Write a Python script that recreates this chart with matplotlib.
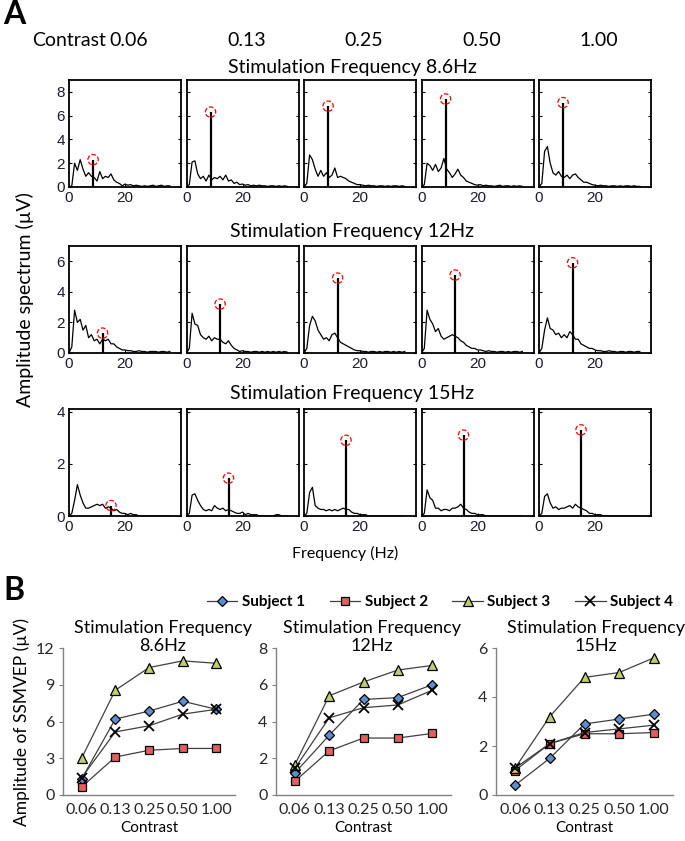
import numpy as np
import matplotlib
matplotlib.use("Agg")
import matplotlib.pyplot as plt
from matplotlib.lines import Line2D

plt.rcParams['font.family'] = ['Lato', 'DejaVu Sans']

# ---- panel A: amplitude spectra (1 Hz bins, 0..36 Hz) ----
contrasts = ['0.06', '0.13', '0.25', '0.50', '1.00']
stim_freqs = [8.6, 12, 15]
stim_names = ['8.6Hz', '12Hz', '15Hz']
freq_grid = list(range(37))

spec_86 = [
    [0, 0.1, 2.0, 1.4, 2.3, 1.5, 0.9, 1.2, 0.9, 0.8, 0.5, 1.3, 0.7, 0.9, 0.8, 1.1, 0.6, 0.4, 0.3, 0.1, 0.25, 0.15, 0.2, 0.1, 0.15, 0.1, 0.05, 0.1, 0.05, 0.1, 0.15, 0.05, 0.1, 0.15, 0.05, 0.1, 0.1],
    [0, 0.2, 2.1, 2.2, 1.1, 0.7, 0.9, 0.5, 1.0, 0.6, 0.8, 0.7, 0.9, 0.6, 1.0, 0.5, 0.6, 0.3, 0.4, 0.2, 0.25, 0.15, 0.2, 0.1, 0.15, 0.1, 0.15, 0.1, 0.1, 0.05, 0.1, 0.1, 0.05, 0.1, 0.05, 0.1, 0.05],
    [0, 0.3, 2.7, 2.3, 1.5, 0.9, 1.4, 0.9, 1.2, 0.8, 1.0, 1.6, 0.8, 0.9, 0.8, 0.7, 0.5, 0.4, 0.3, 0.2, 0.2, 0.15, 0.1, 0.15, 0.1, 0.1, 0.05, 0.1, 0.1, 0.05, 0.1, 0.05, 0.1, 0.1, 0.05, 0.1, 0.05],
    [0, 0.2, 2.0, 1.8, 1.4, 1.9, 1.3, 1.6, 2.4, 1.5, 1.2, 0.8, 1.1, 1.5, 1.0, 0.8, 0.5, 0.4, 0.3, 0.2, 0.15, 0.2, 0.1, 0.15, 0.1, 0.1, 0.05, 0.1, 0.15, 0.05, 0.1, 0.1, 0.05, 0.1, 0.05, 0.1, 0.05],
    [0, 0.3, 3.0, 3.4, 2.0, 1.2, 1.0, 1.3, 0.9, 0.8, 1.0, 0.7, 1.0, 1.1, 0.8, 0.6, 0.4, 0.4, 0.3, 0.2, 0.15, 0.1, 0.15, 0.1, 0.1, 0.05, 0.1, 0.1, 0.05, 0.1, 0.05, 0.1, 0.1, 0.05, 0.1, 0.05, 0.05],
]
spec_12 = [
    [0, 0.4, 2.8, 2.0, 2.2, 1.5, 1.8, 1.0, 1.2, 0.8, 0.9, 0.6, 0.9, 0.8, 0.9, 0.6, 0.6, 0.4, 0.3, 0.2, 0.2, 0.15, 0.15, 0.1, 0.1, 0.15, 0.1, 0.1, 0.05, 0.1, 0.1, 0.1, 0.05, 0.1, 0.1, 0.05, 0.1],
    [0, 0.3, 2.6, 1.9, 1.8, 1.2, 1.0, 0.9, 1.1, 0.8, 1.0, 0.9, 0.9, 0.7, 0.6, 0.8, 0.5, 0.3, 0.2, 0.1, 0.15, 0.1, 0.1, 0.05, 0.1, 0.1, 0.05, 0.1, 0.05, 0.1, 0.05, 0.1, 0.05, 0.1, 0.05, 0.1, 0.05],
    [0, 0.3, 1.8, 2.4, 2.1, 1.5, 1.2, 0.9, 1.0, 0.8, 1.2, 1.3, 1.0, 0.7, 0.6, 0.5, 0.4, 0.3, 0.2, 0.15, 0.15, 0.1, 0.1, 0.05, 0.1, 0.1, 0.05, 0.1, 0.05, 0.1, 0.1, 0.05, 0.1, 0.05, 0.1, 0.05, 0.1],
    [0, 0.3, 2.8, 2.2, 1.9, 1.4, 1.6, 1.1, 0.9, 1.0, 1.1, 1.2, 1.1, 1.0, 0.8, 0.7, 0.5, 0.4, 0.3, 0.3, 0.2, 0.2, 0.15, 0.1, 0.15, 0.1, 0.1, 0.05, 0.1, 0.1, 0.05, 0.1, 0.05, 0.1, 0.1, 0.05, 0.1],
    [0, 0.3, 1.5, 2.3, 1.6, 1.5, 1.2, 1.3, 1.0, 1.2, 1.0, 1.4, 1.2, 0.9, 0.9, 0.6, 0.5, 0.4, 0.3, 0.3, 0.2, 0.15, 0.15, 0.1, 0.1, 0.15, 0.1, 0.1, 0.05, 0.1, 0.1, 0.05, 0.1, 0.1, 0.05, 0.1, 0.1],
]
spec_15 = [
    [0, 0.1, 0.6, 1.2, 0.8, 0.5, 0.3, 0.3, 0.35, 0.4, 0.45, 0.4, 0.45, 0.3, 0.35, 0.3, 0.2, 0.25, 0.15, 0.1, 0.1, 0.05, 0.1, 0.05, 0.05, 0, 0, 0, 0, 0, 0, 0, 0, 0, 0, 0, 0],
    [0, 0.1, 0.8, 0.85, 0.6, 0.4, 0.25, 0.2, 0.25, 0.2, 0.4, 0.3, 0.25, 0.3, 0.2, 0.25, 0.2, 0.15, 0.1, 0.1, 0.15, 0.05, 0.1, 0.05, 0.05, 0.05, 0, 0, 0, 0, 0, 0, 0.05, 0.05, 0, 0, 0],
    [0, 0.1, 0.9, 1.1, 0.4, 0.3, 0.25, 0.25, 0.2, 0.25, 0.2, 0.25, 0.2, 0.25, 0.3, 0.25, 0.25, 0.15, 0.1, 0.1, 0.05, 0.05, 0.05, 0, 0, 0, 0, 0, 0, 0, 0, 0, 0, 0, 0, 0, 0],
    [0, 0.1, 1.0, 0.7, 0.6, 0.3, 0.3, 0.2, 0.25, 0.25, 0.2, 0.3, 0.3, 0.35, 0.45, 0.3, 0.25, 0.15, 0.1, 0.1, 0.05, 0.05, 0.05, 0, 0, 0, 0, 0, 0, 0, 0, 0, 0, 0, 0, 0, 0],
    [0, 0.1, 0.75, 0.85, 0.5, 0.3, 0.35, 0.25, 0.3, 0.3, 0.35, 0.4, 0.3, 0.45, 0.35, 0.3, 0.25, 0.2, 0.1, 0.1, 0.05, 0.05, 0.05, 0, 0, 0, 0, 0, 0, 0, 0, 0, 0, 0, 0, 0, 0],
]
peaks_86 = [2.3, 6.3, 6.8, 7.4, 7.1]
peaks_12 = [1.3, 3.2, 4.9, 5.1, 5.9]
peaks_15 = [0.4, 1.45, 2.9, 3.1, 3.3]

spectra = [spec_86, spec_12, spec_15]
peaks = [peaks_86, peaks_12, peaks_15]
row_ylim = [9, 7, 4.1]
row_yticks = [[0, 2, 4, 6, 8], [0, 2, 4, 6], [0, 2, 4]]

# ---- panel B: SSMVEP amplitude vs contrast ----
subjects = ['Subject 1', 'Subject 2', 'Subject 3', 'Subject 4']
amp_86 = [
    [1.3, 6.2, 6.85, 7.65, 7.0],
    [0.65, 3.1, 3.65, 3.8, 3.8],
    [3.0, 8.55, 10.4, 10.95, 10.75],
    [1.4, 5.15, 5.65, 6.6, 7.0],
]
amp_12 = [
    [1.2, 3.25, 5.2, 5.3, 6.0],
    [0.75, 2.4, 3.1, 3.1, 3.35],
    [1.65, 5.4, 6.15, 6.8, 7.05],
    [1.45, 4.2, 4.75, 4.9, 5.7],
]
amp_15 = [
    [0.4, 1.5, 2.9, 3.1, 3.3],
    [1.0, 2.1, 2.5, 2.5, 2.55],
    [1.1, 3.2, 4.8, 5.0, 5.6],
    [1.1, 2.1, 2.55, 2.7, 2.85],
]
amps = [amp_86, amp_12, amp_15]
b_ylim = [12, 8, 6]
b_yticks = [[0, 3, 6, 9, 12], [0, 2, 4, 6, 8], [0, 2, 4, 6]]

markers = ['D', 's', '^', 'x']
msizes = [5, 6, 6.5, 6.5]
fills = ['#5b8fd0', '#e0605c', '#bccf6c', 'black']

W, H = 685.0, 841.0
fig = plt.figure(figsize=(W / 100, H / 100), dpi=100)


def add_box(x, y, w, h):
    return fig.add_axes([x / W, 1 - (y + h) / H, w / W, h / H])


# panel A
a_left = [69, 186.5, 304, 421.5, 539]
a_top = [80, 246, 409]
a_w, a_h = 112, 107
title_y = [67, 232, 393]

for r in range(3):
    fig.text(352 / W, 1 - title_y[r] / H, 'Stimulation Frequency ' + stim_names[r],
             ha='center', va='center', fontsize=14)
    for c in range(5):
        ax = add_box(a_left[c], a_top[r], a_w, a_h)
        ax.plot(freq_grid, spectra[r][c], color='black', lw=0.9)
        ax.vlines(stim_freqs[r], 0, peaks[r][c], color='black', lw=1.6)
        ax.scatter([stim_freqs[r]], [peaks[r][c]], s=55, facecolors='none',
                   edgecolors='red', linestyles='--', linewidths=0.9, zorder=5)
        ax.set_xlim(0, 40)
        ax.set_ylim(0, row_ylim[r])
        ax.set_xticks([0, 20])
        ax.set_yticks(row_yticks[r])
        if c > 0:
            ax.set_yticklabels([])
        ax.tick_params(direction='in', length=2, right=True, labelsize=11, pad=3,
                       colors='black', labelcolor='#1c1c2c')
        for lab in ax.get_xticklabels() + ax.get_yticklabels():
            lab.set_fontfamily('Liberation Sans')
        for sp in ax.spines.values():
            sp.set_linewidth(1.3)

fig.text(3 / W, 1 - 14 / H, 'A', ha='left', va='center', fontsize=23, fontweight='bold')
fig.text(32 / W, 1 - 40 / H, 'Contrast', ha='left', va='center', fontsize=14)
for c in range(5):
    fig.text((a_left[c] + a_w / 2 + 4) / W, 1 - 40 / H, contrasts[c],
             ha='center', va='center', fontsize=14)
fig.text(25 / W, 1 - 300 / H, 'Amplitude spectrum (\u00b5V)', rotation=90,
         ha='center', va='center', fontsize=14)
fig.text(345 / W, 1 - 553 / H, 'Frequency (Hz)', ha='center', va='center', fontsize=11.5)

# panel B
b_left = [63, 276, 496]
b_w = [172, 175, 177]
b_top, b_h = 648, 147
b_title_x = [163, 372, 596]

for k in range(3):
    ax = add_box(b_left[k], b_top, b_w[k], b_h)
    for s in range(4):
        ax.plot(range(5), amps[k][s], color='#404040', lw=0.9, marker=markers[s],
                ms=msizes[s], mfc=fills[s], mec='black', mew=0.9 if s < 3 else 1.3,
                zorder=3)
    ax.set_xlim(-0.55, 4.55)
    ax.set_ylim(0, b_ylim[k])
    ax.set_yticks(b_yticks[k])
    ax.set_xticks(range(5))
    ax.set_xticklabels(contrasts)
    ax.spines['top'].set_visible(False)
    ax.spines['right'].set_visible(False)
    for sp in ['left', 'bottom']:
        ax.spines[sp].set_color('#808080')
        ax.spines[sp].set_linewidth(1.0)
    ax.tick_params(axis='y', direction='out', length=3, color='#808080',
                   labelsize=11.5, labelcolor='#262626', pad=3)
    ax.tick_params(axis='x', length=0, labelsize=11.5, labelcolor='#262626', pad=6)
    fig.text(b_title_x[k] / W, 1 - 628 / H, 'Stimulation Frequency',
             ha='center', va='center', fontsize=13)
    fig.text(b_title_x[k] / W, 1 - 646 / H, stim_names[k],
             ha='center', va='center', fontsize=13)
    fig.text((b_left[k] + b_w[k] * 0.55 / 5.1 + 2 * b_w[k] / 5.1) / W, 1 - 828 / H,
             'Contrast', ha='center', va='center', fontsize=11)

fig.text(3 / W, 1 - 590 / H, 'B', ha='left', va='center', fontsize=23, fontweight='bold')
fig.text(22 / W, 1 - 722 / H, 'Amplitude of SSMVEP (\u00b5V)', rotation=90,
         ha='center', va='center', fontsize=12.5)

handles = [Line2D([], [], color='#404040', lw=0.9, marker=markers[s], ms=msizes[s],
                  mfc=fills[s], mec='black', mew=0.9 if s < 3 else 1.3)
           for s in range(4)]
fig.legend(handles, subjects, loc='center', bbox_to_anchor=(440 / W, 1 - 602 / H),
           ncol=4, frameon=False, prop={'weight': 'bold', 'size': 11},
           handlelength=2.0, handletextpad=0.3, columnspacing=1.6, borderpad=0)

fig.savefig('out.png', dpi=100)
